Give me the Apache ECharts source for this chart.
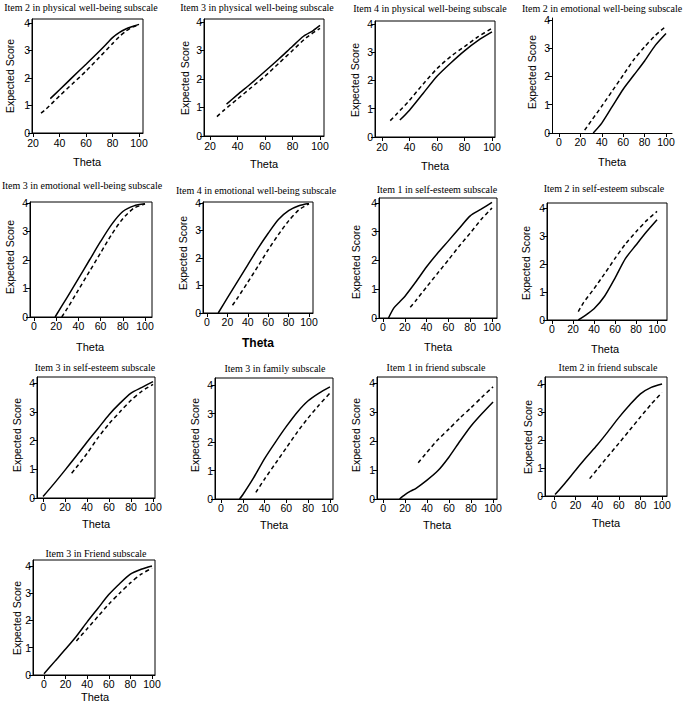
<!DOCTYPE html>
<html><head><meta charset="utf-8">
<script src="https://cdn.jsdelivr.net/npm/echarts/dist/echarts.min.js"></script>
<style>html,body{margin:0;padding:0;background:#fff;}#c{width:685px;height:713px;}</style>
</head><body><div id="c"></div>
<script>
// ---- text ----
const panelTitles = [
  "Item 2 in physical well-being subscale",
  "Item 3 in physical well-being subscale",
  "Item 4 in physical well-being subscale",
  "Item 2 in emotional well-being subscale",
  "Item 3 in emotional well-being subscale",
  "Item 4 in emotional well-being subscale",
  "Item 1 in self-esteem subscale",
  "Item 2 in self-esteem subscale",
  "Item 3 in self-esteem subscale",
  "Item 3 in family subscale",
  "Item 1 in friend subscale",
  "Item 2 in friend subscale",
  "Item 3 in Friend subscale"
];
const xAxisName = "Theta";
const yAxisName = "Expected Score";
const xTicksFrom20 = [20, 40, 60, 80, 100];
const xTicksFrom0 = [0, 20, 40, 60, 80, 100];
const yTicks = [0, 1, 2, 3, 4];

// ---- data: [theta, expected score] ----
const solid1 = [[33,1.25],[40,1.57],[50,2.04],[60,2.5],[70,2.97],[77,3.32],[80,3.47],[85,3.65],[90,3.78],[95,3.87],[100,3.95]];
const dashed1 = [[26,0.72],[30,0.88],[40,1.35],[50,1.8],[60,2.25],[70,2.75],[80,3.25],[85,3.5],[90,3.7],[95,3.85],[100,3.93]];
const solid2 = [[32,1.12],[40,1.45],[50,1.85],[60,2.27],[70,2.7],[80,3.15],[88,3.5],[95,3.7],[100,3.88]];
const dashed2 = [[25,0.68],[30,0.9],[40,1.3],[50,1.7],[60,2.1],[70,2.55],[80,3.0],[90,3.45],[100,3.78]];
const solid3 = [[33,0.6],[40,0.95],[50,1.55],[60,2.15],[70,2.62],[80,3.05],[90,3.42],[100,3.72]];
const dashed3 = [[26,0.58],[30,0.78],[40,1.3],[50,1.88],[60,2.42],[70,2.85],[80,3.2],[90,3.55],[100,3.85]];
const solid4 = [[32,0],[40,0.35],[50,0.95],[60,1.55],[70,2.05],[80,2.55],[90,3.1],[100,3.52]];
const dashed4 = [[24,0.1],[30,0.42],[40,0.95],[50,1.5],[60,2.05],[70,2.6],[80,3.05],[90,3.45],[100,3.78]];
const solid5 = [[19,0],[30,0.7],[40,1.35],[50,2.0],[60,2.65],[70,3.25],[80,3.7],[90,3.9],[100,3.97]];
const dashed5 = [[25,0],[30,0.3],[40,0.95],[50,1.6],[60,2.25],[70,2.9],[80,3.45],[90,3.82],[100,3.96]];
const solid6 = [[11,0],[20,0.55],[30,1.15],[40,1.75],[50,2.35],[60,2.9],[70,3.4],[80,3.72],[90,3.9],[100,3.98]];
const dashed6 = [[25,0.28],[30,0.55],[40,1.12],[50,1.7],[60,2.3],[70,2.85],[80,3.35],[90,3.75],[100,3.97]];
const solid7 = [[5,0],[10,0.35],[15,0.55],[20,0.75],[30,1.25],[40,1.78],[50,2.25],[60,2.68],[70,3.12],[80,3.55],[90,3.78],[100,4.02]];
const dashed7 = [[25,0.37],[30,0.6],[40,1.08],[50,1.55],[60,2.02],[70,2.5],[80,2.95],[90,3.42],[100,3.82]];
const solid8 = [[25,0],[30,0.12],[40,0.4],[50,0.85],[60,1.5],[70,2.2],[80,2.68],[90,3.15],[100,3.58]];
const dashed8 = [[25,0.3],[30,0.62],[40,1.12],[50,1.65],[60,2.2],[70,2.72],[80,3.15],[90,3.55],[100,3.88]];
const solid9 = [[0,0.05],[10,0.5],[20,0.97],[30,1.45],[40,1.95],[50,2.42],[60,2.9],[70,3.3],[80,3.65],[90,3.85],[100,4.05]];
const dashed9 = [[26,0.86],[30,1.05],[40,1.55],[50,2.1],[60,2.58],[70,3.0],[80,3.4],[90,3.72],[100,3.95]];
const solid10 = [[17,0],[20,0.15],[30,0.75],[40,1.42],[50,2.0],[60,2.55],[70,3.05],[80,3.45],[90,3.72],[100,3.94]];
const dashed10 = [[32,0.23],[40,0.7],[50,1.25],[60,1.8],[70,2.35],[80,2.85],[90,3.3],[100,3.72]];
const solid11 = [[15,0],[20,0.15],[25,0.27],[30,0.37],[40,0.65],[50,0.98],[60,1.45],[70,2.0],[80,2.52],[90,2.95],[100,3.35]];
const dashed11 = [[32,1.25],[40,1.62],[50,2.05],[60,2.42],[70,2.8],[80,3.15],[90,3.52],[100,3.87]];
const solid12 = [[1,0.05],[10,0.45],[20,0.92],[30,1.38],[40,1.82],[50,2.3],[60,2.8],[70,3.25],[80,3.65],[90,3.88],[100,4.0]];
const dashed12 = [[33,0.62],[40,0.95],[50,1.42],[60,1.88],[70,2.35],[80,2.82],[90,3.28],[100,3.7]];
const solid13 = [[0,0.05],[10,0.5],[20,0.95],[30,1.42],[40,1.95],[50,2.45],[60,2.95],[70,3.35],[80,3.7],[90,3.88],[100,4.0]];
const dashed13 = [[30,1.25],[40,1.7],[50,2.15],[60,2.6],[70,3.0],[80,3.38],[90,3.7],[100,3.92]];

const solidSeries = [solid1,solid2,solid3,solid4,solid5,solid6,solid7,solid8,solid9,solid10,solid11,solid12,solid13];
const dashedSeries = [dashed1,dashed2,dashed3,dashed4,dashed5,dashed6,dashed7,dashed8,dashed9,dashed10,dashed11,dashed12,dashed13];

// ---- layout (pixels) ----
// box: [left, top, right, bottom]; xr: axis range; ym: y max; t/th/es: text centres
const layout = [
  {box:[32,19,143,133],  xr:[19.2,103],  ym:4.145, tk:0, bd:true,  t:[81,7],    th:[87,162],  es:[10,76]},
  {box:[204,19,324,136], xr:[15.6,102.9],ym:4.105, tk:0, bd:true,  t:[257,7],   th:[264,164], es:[185,78]},
  {box:[375,21,495,137], xr:[14.9,102.2],ym:4.106, tk:0, bd:true,  t:[430,8],   th:[435,166], es:[355,80]},
  {box:[552,18,672,133], xr:[-6.5,105.6],ym:4.07,  tk:1, bd:false, t:[602,8],   th:[612,162], es:[532,72]},
  {box:[30,202,152,317], xr:[-3.6,106.3],ym:4.035, tk:1, bd:true,  t:[82,185],  th:[90,347],  es:[10,257]},
  {box:[203,202,313,313],xr:[-3.9,103.9],ym:4.036, tk:1, bd:true,  t:[256,190], th:[258,343], es:[183,253], big:true},
  {box:[379,198,497,318],xr:[-3.7,104.6],ym:4.17,  tk:1, bd:true,  t:[437,189], th:[438,347], es:[356,262]},
  {box:[547,203,667,320],xr:[-4.8,109.5],ym:4.18,  tk:1, bd:true,  t:[604,188], th:[605,349], es:[526,263]},
  {box:[37,377,155,498], xr:[-5.5,101.8],ym:4.21,  tk:1, bd:true,  t:[95,367],  th:[96,524],  es:[17,435]},
  {box:[215,378,333,499],xr:[-5.5,102.8],ym:4.25,  tk:1, bd:true,  t:[275,368], th:[274,525], es:[195,435]},
  {box:[377,377,497,499],xr:[-5.5,103.6],ym:4.21,  tk:1, bd:true,  t:[436,367], th:[437,525], es:[356,435]},
  {box:[545,377,667,496],xr:[-8.3,104.6],ym:4.25,  tk:1, bd:true,  t:[608,367], th:[606,523], es:[528,437]},
  {box:[33,560,155,675], xr:[-10.2,102.8],ym:4.22, tk:1, bd:true,  t:[96,553],  th:[95,697],  es:[17,618]}
];

const sans = "'Liberation Sans Narrow','Liberation Sans',Arial,sans-serif";
const sansW = "'Liberation Sans',Arial,sans-serif";
const serif = "'Liberation Serif','Times New Roman',serif";

const grids = [], xAxes = [], yAxes = [], series = [], graphics = [];
layout.forEach((L, i) => {
  const [l,t,r,b] = L.box;
  grids.push({left:l, top:t, width:r-l, height:b-t, show:L.bd, borderColor:'#000', borderWidth:1, backgroundColor:'transparent', containLabel:false});
  const xt = L.tk === 0 ? xTicksFrom20 : xTicksFrom0;
  xAxes.push({type:'value', gridIndex:i, min:L.xr[0], max:L.xr[1],
    axisLine:{show:true, onZero:false, lineStyle:{color:'#000', width:1}},
    axisTick:{show:true, length:4, inside:false, customValues:xt, lineStyle:{color:'#000', width:1}},
    axisLabel:{show:true, customValues:xt, color:'#000', fontSize:10.5, lineHeight:10, fontFamily:sans, margin:L.tk === 0 ? 5 : 4},
    splitLine:{show:false}});
  yAxes.push({type:'value', gridIndex:i, min:0, max:L.ym,
    axisLine:{show:true, onZero:false, lineStyle:{color:'#000', width:1}},
    axisTick:{show:true, length:4, inside:false, customValues:yTicks, lineStyle:{color:'#000', width:1}},
    axisLabel:{show:true, customValues:yTicks, color:'#000', fontSize:10.5, lineHeight:9, fontFamily:sans, margin:2},
    splitLine:{show:false}});
  series.push({type:'line', xAxisIndex:i, yAxisIndex:i, data:solidSeries[i], showSymbol:false, symbol:'none', smooth:0.25,
    lineStyle:{color:'#000', width:1.5, type:'solid'}, silent:true});
  series.push({type:'line', xAxisIndex:i, yAxisIndex:i, data:dashedSeries[i], showSymbol:false, symbol:'none', smooth:0.25,
    lineStyle:{color:'#000', width:1.5, type:[4,3]}, silent:true});
  graphics.push({type:'text', x:L.t[0], y:L.t[1], silent:true,
    style:{text:panelTitles[i], font:'10px ' + serif, fill:'#000', align:'center', verticalAlign:'middle', textAlign:'center', textVerticalAlign:'middle'}});
  graphics.push({type:'text', x:L.th[0], y:L.th[1], silent:true,
    style:{text:xAxisName, font:(L.big ? 'bold 12px ' : '11px ') + sansW, fill:'#000', align:'center', verticalAlign:'middle', textAlign:'center', textVerticalAlign:'middle'}});
  graphics.push({type:'text', x:L.es[0], y:L.es[1], rotation:Math.PI/2, silent:true,
    style:{text:yAxisName, font:'10.5px ' + sansW, fill:'#000', align:'center', verticalAlign:'middle', textAlign:'center', textVerticalAlign:'middle'}});
});

const chart = echarts.init(document.getElementById('c'), null, {renderer:'svg'});
chart.setOption({
  animation:false,
  backgroundColor:'#fff',
  grid:grids, xAxis:xAxes, yAxis:yAxes, series:series,
  graphic:{elements:graphics}
});
</script>
</body></html>
